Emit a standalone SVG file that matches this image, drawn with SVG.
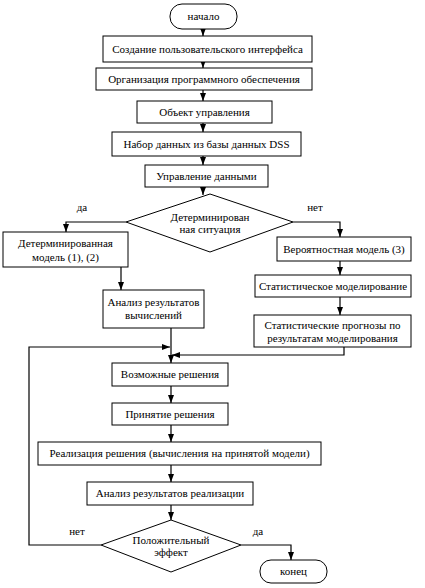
<svg xmlns="http://www.w3.org/2000/svg" width="425" height="588" viewBox="0 0 425 588">
<style>
.n{fill:#fff;stroke:#000;stroke-width:1}
.t{font-family:'Liberation Serif','DejaVu Serif','Times New Roman',serif;font-size:11px;fill:#000;text-anchor:middle}
.c{fill:none;stroke:#000;stroke-width:1.2}
</style>
<defs>
<marker id="a" markerUnits="userSpaceOnUse" markerWidth="8" markerHeight="8" viewBox="0 0 8 8" refX="8" refY="4" orient="auto">
<path d="M0,1 L8,4 L0,7 Z" fill="#000"/>
</marker>
</defs>
<rect width="425" height="588" fill="#fff"/>
<g id="connectors">
<path class="c" d="M203,29 V36" marker-end="url(#a)"/>
<path class="c" d="M203,62 V68" marker-end="url(#a)"/>
<path class="c" d="M203,90 V101" marker-end="url(#a)"/>
<path class="c" d="M203,123 V132" marker-end="url(#a)"/>
<path class="c" d="M203,156 V165" marker-end="url(#a)"/>
<path class="c" d="M203,187 V195" marker-end="url(#a)"/>
<path class="c" d="M126,222 H66 V232" marker-end="url(#a)"/>
<path class="c" d="M293,222 H340 V237" marker-end="url(#a)"/>
<path class="c" d="M121,267 V290" marker-end="url(#a)"/>
<path class="c" d="M340,261 V275" marker-end="url(#a)"/>
<path class="c" d="M340,297 V315" marker-end="url(#a)"/>
<path class="c" d="M171,328 V363" marker-end="url(#a)"/>
<path class="c" d="M344,347 V355 H172" marker-end="url(#a)"/>
<path class="c" d="M101,545 H29 V347 H170" marker-end="url(#a)"/>
<path class="c" d="M171,386 V403" marker-end="url(#a)"/>
<path class="c" d="M171,425 V442" marker-end="url(#a)"/>
<path class="c" d="M171,465 V482" marker-end="url(#a)"/>
<path class="c" d="M171,505 V520" marker-end="url(#a)"/>
<path class="c" d="M241,545 H291 V560" marker-end="url(#a)"/>
<text class="t" x="82" y="211">да</text>
<text class="t" x="315" y="211">нет</text>
<text class="t" x="77" y="535">нет</text>
<text class="t" x="258" y="535">да</text>
</g>
<g id="start"><rect class="n" x="170" y="4" width="67" height="25" rx="12"/><text class="t" x="203.5" y="20">начало</text></g>
<g id="ui"><rect class="n" x="103" y="36" width="209" height="26"/><text class="t" x="207.5" y="53">Создание пользовательского интерфейса</text></g>
<g id="software"><rect class="n" x="96" y="68" width="216" height="22"/><text class="t" x="204" y="83">Организация программного обеспечения</text></g>
<g id="object"><rect class="n" x="137" y="101" width="135" height="22"/><text class="t" x="204.5" y="116">Объект управления</text></g>
<g id="dataset"><rect class="n" x="112" y="132" width="189" height="24"/><text class="t" x="206.5" y="148">Набор данных из базы данных DSS</text></g>
<g id="datamgmt"><rect class="n" x="145" y="165" width="123" height="22"/><text class="t" x="206.5" y="180">Управление данными</text></g>
<g id="decision1"><polygon class="n" points="210,194 293,222 210,252 126,222"/><text class="t" x="210" y="221">Детерминирован</text><text class="t" x="210" y="233">ная ситуация</text></g>
<g id="detmodel"><rect class="n" x="3" y="232" width="125" height="35"/><text class="t" x="65.5" y="247">Детерминированная</text><text class="t" x="65.5" y="261">модель (1), (2)</text></g>
<g id="probmodel"><rect class="n" x="277" y="237" width="134" height="24"/><text class="t" x="344" y="253">Вероятностная модель (3)</text></g>
<g id="analysis1"><rect class="n" x="103" y="290" width="101" height="38"/><text class="t" x="153.5" y="306">Анализ результатов</text><text class="t" x="153.5" y="319">вычислений</text></g>
<g id="statmodel"><rect class="n" x="255" y="275" width="156" height="22"/><text class="t" x="333" y="290">Статистическое моделирование</text></g>
<g id="forecast"><rect class="n" x="254" y="315" width="157" height="32"/><text class="t" x="332.5" y="329">Статистические прогнозы по</text><text class="t" x="332.5" y="342">результатам моделирования</text></g>
<g id="possible"><rect class="n" x="112" y="363" width="116" height="23"/><text class="t" x="170" y="378">Возможные решения</text></g>
<g id="accept"><rect class="n" x="112" y="403" width="116" height="22"/><text class="t" x="170" y="418">Принятие решения</text></g>
<g id="implement"><rect class="n" x="38" y="442" width="283" height="23"/><text class="t" x="179.5" y="457">Реализация решения (вычисления на принятой модели)</text></g>
<g id="analysis2"><rect class="n" x="87" y="482" width="166" height="23"/><text class="t" x="170" y="497">Анализ результатов реализации</text></g>
<g id="decision2"><polygon class="n" points="171,520 241,545 171,572 101,545"/><text class="t" x="171" y="544">Положительный</text><text class="t" x="171" y="556">эффект</text></g>
<g id="end"><rect class="n" x="260" y="560" width="67" height="23" rx="11"/><text class="t" x="293.5" y="575">конец</text></g>
</svg>
